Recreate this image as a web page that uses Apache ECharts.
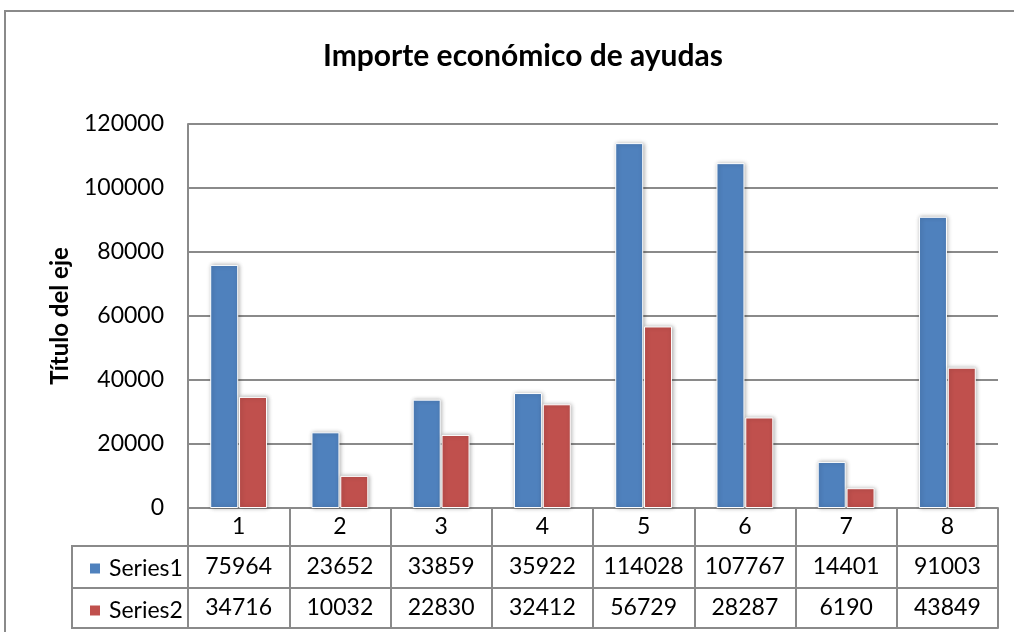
<!DOCTYPE html>
<html>
<head>
<meta charset="utf-8">
<script src="https://cdn.jsdelivr.net/npm/echarts@6/dist/echarts.min.js"></script>
<style>
  html, body { margin: 0; padding: 0; background: #fff; }
  #chart { width: 1014px; height: 632px; }
</style>
</head>
<body>
<div id="chart"></div>
<script>
// datos
const categories = ["1", "2", "3", "4", "5", "6", "7", "8"];
const series1 = [75964, 23652, 33859, 35922, 114028, 107767, 14401, 91003];
const series2 = [34716, 10032, 22830, 32412, 56729, 28287, 6190, 43849];
const seriesNames = ["Series1", "Series2"];
const yTicks = { min: 0, max: 120000, interval: 20000 };

const FONT = "Lato";
const GRID_COLOR = "#8a8a8a";
const colors = ["#4F81BD", "#C0504D"];

const chart = echarts.init(document.getElementById("chart"));

// fila de la tabla de datos como eje de categorías
function tableAxis(data, offset, tickLen, margin) {
  return {
    type: "category",
    data: data,
    position: "bottom",
    offset: offset,
    axisLine: { show: true, lineStyle: { color: GRID_COLOR, width: 2 } },
    axisTick: { show: true, interval: 0, length: tickLen, lineStyle: { color: GRID_COLOR, width: 2 } },
    axisLabel: {
      show: true, interval: 0, margin: margin, verticalAlign: "middle",
      fontFamily: FONT, fontSize: 23, color: "#000"
    },
    splitLine: { show: false }
  };
}

const barStyle = (c) => ({
  color: c,
  borderColor: "#fff",
  borderWidth: 1,
  shadowBlur: 4,
  shadowColor: "rgba(0,0,0,0.3)",
  shadowOffsetX: 1,
  shadowOffsetY: 0
});

const option = {
  backgroundColor: "#fff",
  animation: false,
  title: {
    text: "Importe económico de ayudas",
    left: 318,
    top: 36,
    textStyle: { fontFamily: FONT, fontSize: 30, fontWeight: "bold", color: "#000" }
  },
  legend: {
    data: seriesNames,
    orient: "vertical",
    left: 83,
    top: 552,
    itemWidth: 12,
    itemHeight: 12,
    itemGap: 19,
    icon: "rect",
    textStyle: { fontFamily: FONT, fontSize: 23, color: "#000", lineHeight: 22, padding: [0, 0, 0, 3] }
  },
  grid: { left: 188, right: 16, top: 124, bottom: 124, containLabel: false },
  xAxis: [
    tableAxis(categories, 0, 38, 19),
    tableAxis(series1, 38, 42, 21),
    tableAxis(series2, 80, 40, 20),
    {
      type: "category", data: categories, position: "bottom", offset: 120,
      axisLine: { show: true, lineStyle: { color: GRID_COLOR, width: 2 } },
      axisTick: { show: false }, axisLabel: { show: false }
    }
  ],
  yAxis: {
    type: "value",
    min: yTicks.min,
    max: yTicks.max,
    interval: yTicks.interval,
    name: "Título del eje",
    nameLocation: "middle",
    nameGap: 116,
    nameTextStyle: { fontFamily: FONT, fontSize: 24, fontWeight: "bold", color: "#000" },
    axisLine: { show: true, lineStyle: { color: GRID_COLOR, width: 2 } },
    axisTick: { show: false },
    axisLabel: { margin: 24, fontFamily: FONT, fontSize: 23, color: "#000", formatter: (v) => String(v) },
    splitLine: { show: true, lineStyle: { color: GRID_COLOR, width: 2 } }
  },
  series: [
    { name: seriesNames[0], type: "bar", data: series1, barWidth: 28, barGap: "3%", itemStyle: barStyle(colors[0]) },
    { name: seriesNames[1], type: "bar", data: series2, barWidth: 28, barGap: "3%", itemStyle: barStyle(colors[1]) }
  ],
  graphic: [
    // marco exterior
    { type: "rect", shape: { x: 5, y: 11, width: 1030, height: 650 }, style: { fill: null, stroke: "#8a8a8a", lineWidth: 2 }, silent: true },
    // celdas de la leyenda
    { type: "rect", shape: { x: 72, y: 546, width: 116, height: 82 }, style: { fill: null, stroke: GRID_COLOR, lineWidth: 2 }, silent: true },
    { type: "line", shape: { x1: 72, y1: 588, x2: 188, y2: 588 }, style: { stroke: GRID_COLOR, lineWidth: 2 }, silent: true }
  ]
};

chart.setOption(option);
</script>
</body>
</html>
